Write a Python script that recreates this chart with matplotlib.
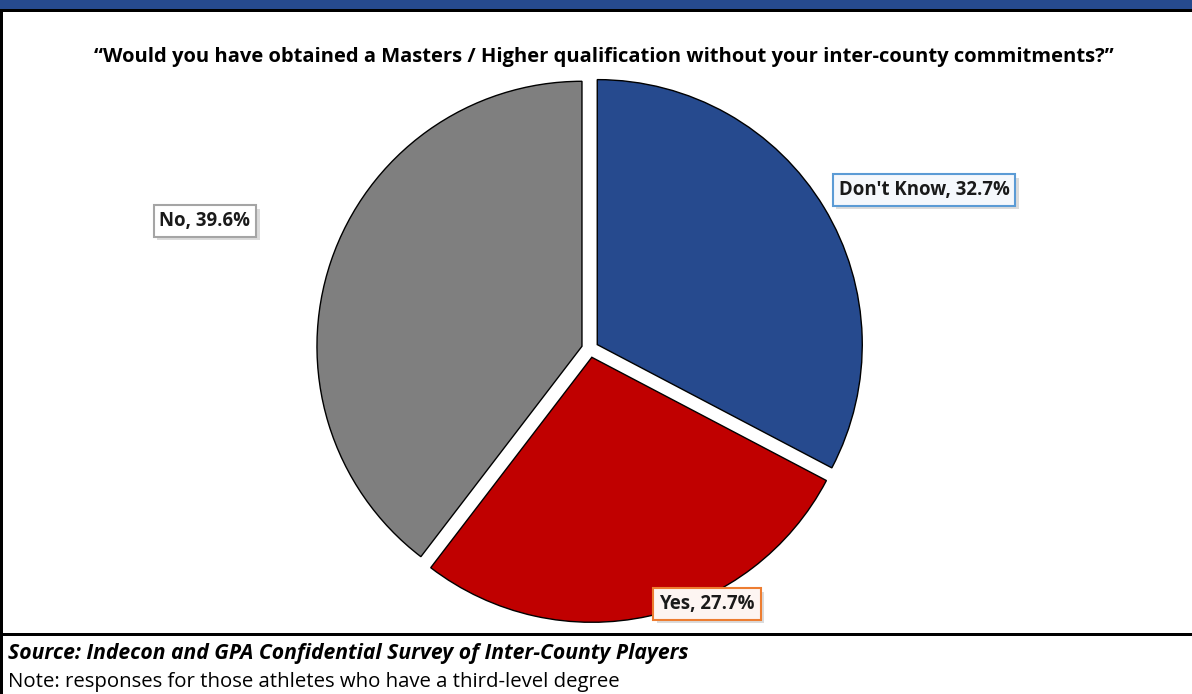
import matplotlib
matplotlib.use("Agg")
import matplotlib.pyplot as plt
from matplotlib.patches import Rectangle
from matplotlib import patheffects as pe

categories = ["Don't Know", "Yes", "No"]
shares = [32.7, 27.7, 39.6]
colors = ["#264A8E", "#C00000", "#7F7F7F"]
label_edges = ["#5B9BD5", "#ED7D31", "#A5A5A5"]
label_faces = ["#F5F8FC", "#FDF5F2", "#FFFFFF"]
title = "\u201cWould you have obtained a Masters / Higher qualification without your inter-county commitments?\u201d"
source = "Source: Indecon and GPA Confidential Survey of Inter-County Players"
note = "Note: responses for those athletes who have a third-level degree"

W, H = 1192, 694
fig = plt.figure(figsize=(W / 100, H / 100), dpi=100)
fig.patch.set_facecolor("white")
plt.rcParams["font.family"] = ["Open Sans", "DejaVu Sans"]

# header band and frame lines
fig.patches.append(Rectangle((0, 1 - 9 / H), 1, 9 / H, transform=fig.transFigure,
                             facecolor="#264A8E", edgecolor="none", zorder=0))
fig.patches.append(Rectangle((0, 1 - 11.5 / H), 1, 3 / H, transform=fig.transFigure,
                             facecolor="black", edgecolor="none", zorder=1))
fig.patches.append(Rectangle((0, 1 - 636 / H), 1, 3 / H, transform=fig.transFigure,
                             facecolor="black", edgecolor="none", zorder=1))
fig.patches.append(Rectangle((0, 1 - 636 / H), 3 / W, (636 - 10) / H, transform=fig.transFigure,
                             facecolor="black", edgecolor="none", zorder=1))
fig.patches.append(Rectangle((0, 0), 3 / W, 58 / H, transform=fig.transFigure,
                             facecolor="black", edgecolor="none", zorder=1))

fig.text(604 / W, 1 - 57 / H, title, ha="center", va="center",
         fontsize=14.5, fontweight="bold", color="black")
fig.text(8 / W, 1 - 654 / H, source, ha="left", va="center",
         fontsize=15.2, fontweight="bold", fontstyle="italic", color="black")
fig.text(8 / W, 1 - 682 / H, note, ha="left", va="center",
         fontsize=14.7, color="black")

# pie: 1 data unit = 265 px
cx, cy, r = 590, 349, 265
lim = 1.2
size = 2 * lim * r
ax = fig.add_axes([(cx - size / 2) / W, 1 - (cy + size / 2) / H, size / W, size / H])
wedges, _ = ax.pie(shares, colors=colors, startangle=90, counterclock=False,
                   explode=[0.032] * 3,
                   wedgeprops=dict(edgecolor="black", linewidth=1.0))
ax.set_xlim(-lim, lim)
ax.set_ylim(-lim, lim)
ax.set_aspect("equal")
ax.axis("off")

label_pos = [(924, 190), (707, 604), (205, 221)]
for cat, val, (lx, ly), ec, fc in zip(categories, shares, label_pos, label_edges, label_faces):
    t = fig.text(lx / W, 1 - ly / H, f"{cat}, {val:.1f}%", ha="center", va="center",
                 fontsize=13.4, fontweight="bold", color="#1a1a1a",
                 bbox=dict(boxstyle="square,pad=0.32", facecolor=fc, edgecolor=ec, linewidth=1.5))
    t.get_bbox_patch().set_path_effects([
        pe.SimplePatchShadow(offset=(2.5, -2.5), shadow_rgbFace="#999999", alpha=0.35),
        pe.Normal()])

fig.savefig("out.png", dpi=100)
